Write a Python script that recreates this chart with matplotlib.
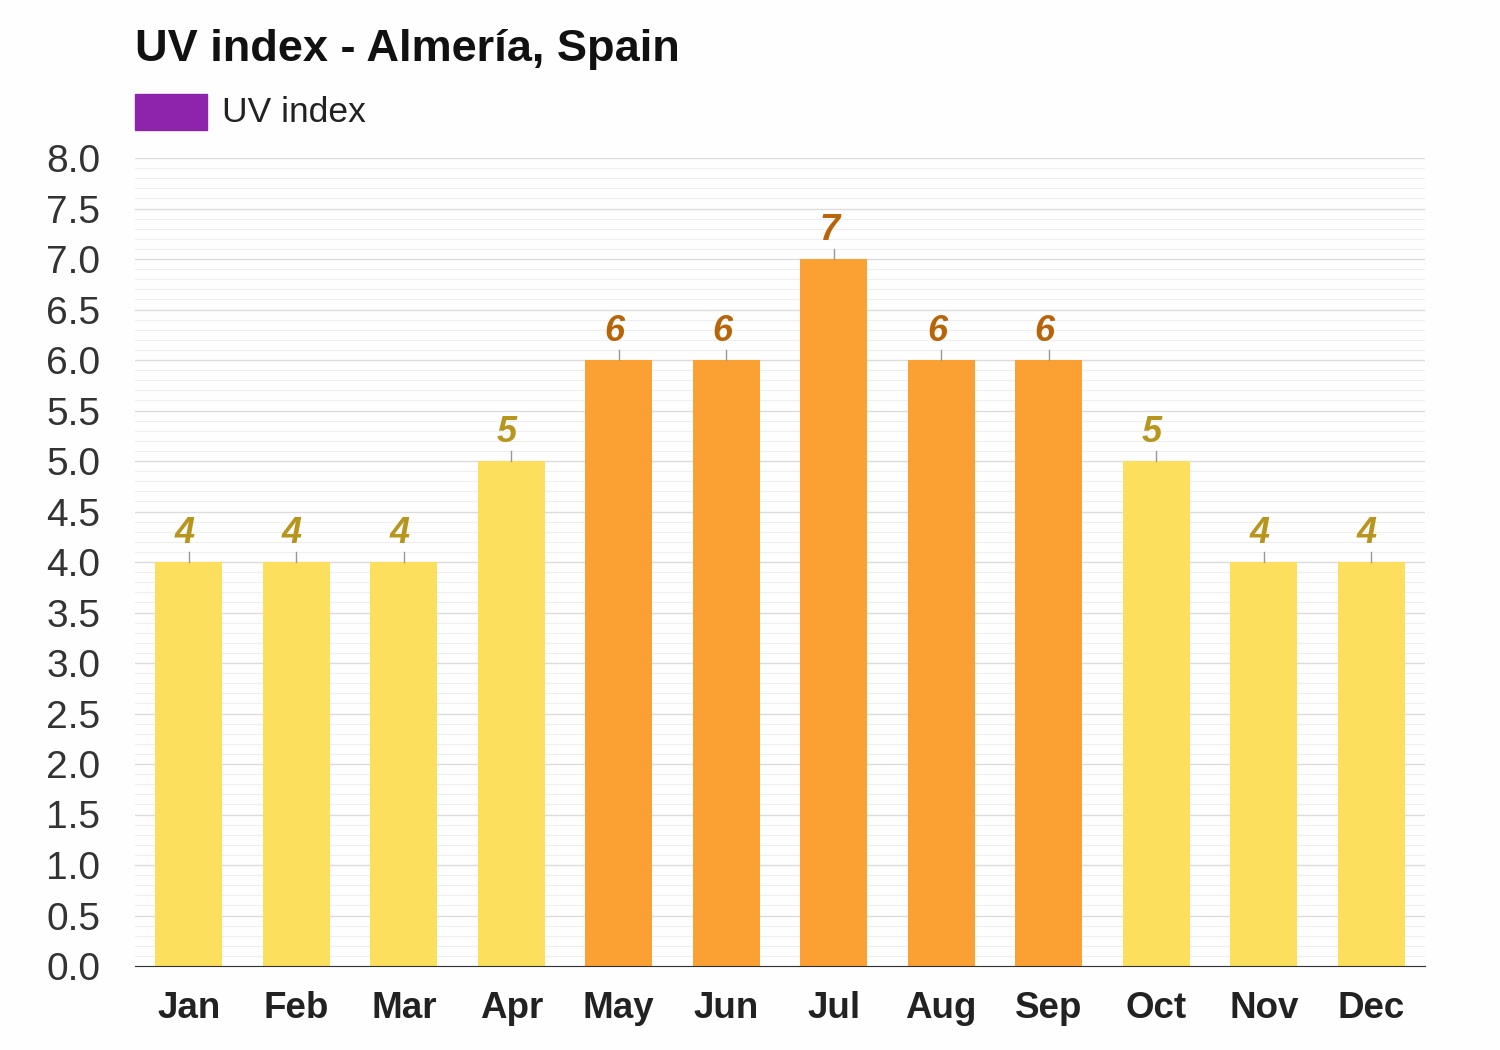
import matplotlib.pyplot as plt
import numpy as np

plt.rcParams['font.family'] = ['Liberation Sans', 'DejaVu Sans']

months = ["Jan", "Feb", "Mar", "Apr", "May", "Jun", "Jul", "Aug", "Sep", "Oct", "Nov", "Dec"]
uv_index = [4, 4, 4, 5, 6, 6, 7, 6, 6, 5, 4, 4]

yellow = "#fcdf5c"
orange = "#fba033"
yellow_txt = "#b8961e"
orange_txt = "#b8650a"

bar_colors = [orange if v >= 6 else yellow for v in uv_index]
txt_colors = [orange_txt if v >= 6 else yellow_txt for v in uv_index]

fig = plt.figure(figsize=(15, 10.5), dpi=100, facecolor="#fdfefd")
ax = fig.add_axes([135/1500, 1 - 966/1050, 1290/1500, (966-158)/1050])
ax.set_facecolor("#fdfefd")

x = np.arange(len(months))
ax.bar(x, uv_index, width=0.62, color=bar_colors, zorder=3)

# leader ticks and value labels
for xi, v, c in zip(x, uv_index, txt_colors):
    ax.plot([xi, xi], [v, v + 0.1], color="#999999", lw=1, zorder=3)
    ax.text(xi - 0.04, v + 0.11, str(v), color=c, fontsize=26, fontweight="bold",
            fontstyle="italic", ha="center", va="bottom", zorder=4)

ax.set_xlim(-0.5, 11.5)
ax.set_ylim(0, 8)
ax.set_yticks(np.arange(0, 8.01, 0.5))
ax.set_yticklabels([f"{t:.1f}" for t in np.arange(0, 8.01, 0.5)])
ax.set_yticks(np.arange(0, 8.01, 0.1), minor=True)
ax.grid(axis="y", which="major", color="#dcdcdc", lw=1, zorder=0)
ax.grid(axis="y", which="minor", color="#efefef", lw=0.8, zorder=0)
ax.set_xticks(x)
ax.set_xticklabels(months, fontsize=26.5, fontweight="bold", color="#222222")
ax.tick_params(axis="y", labelsize=28, colors="#333333", length=0, pad=25, which="both")
ax.tick_params(axis="x", length=0, pad=18)

for s in ["top", "right", "left"]:
    ax.spines[s].set_visible(False)
ax.spines["bottom"].set_color("#333333")
ax.spines["bottom"].set_zorder(5)

fig.text(135/1500, 1 - 50/1050, "UV index - Almería, Spain", fontsize=32.5, fontweight="bold",
         color="#111111", va="center", ha="left")
fig.patches.append(plt.Rectangle((135/1500, 1 - 130/1050), 72/1500, 36/1050,
                                 transform=fig.transFigure, color="#8e24aa"))
fig.text(222/1500, 1 - 113/1050, "UV index", fontsize=25.5, color="#222222", va="center", ha="left")

fig.savefig("out.png", dpi=100, facecolor=fig.get_facecolor())
